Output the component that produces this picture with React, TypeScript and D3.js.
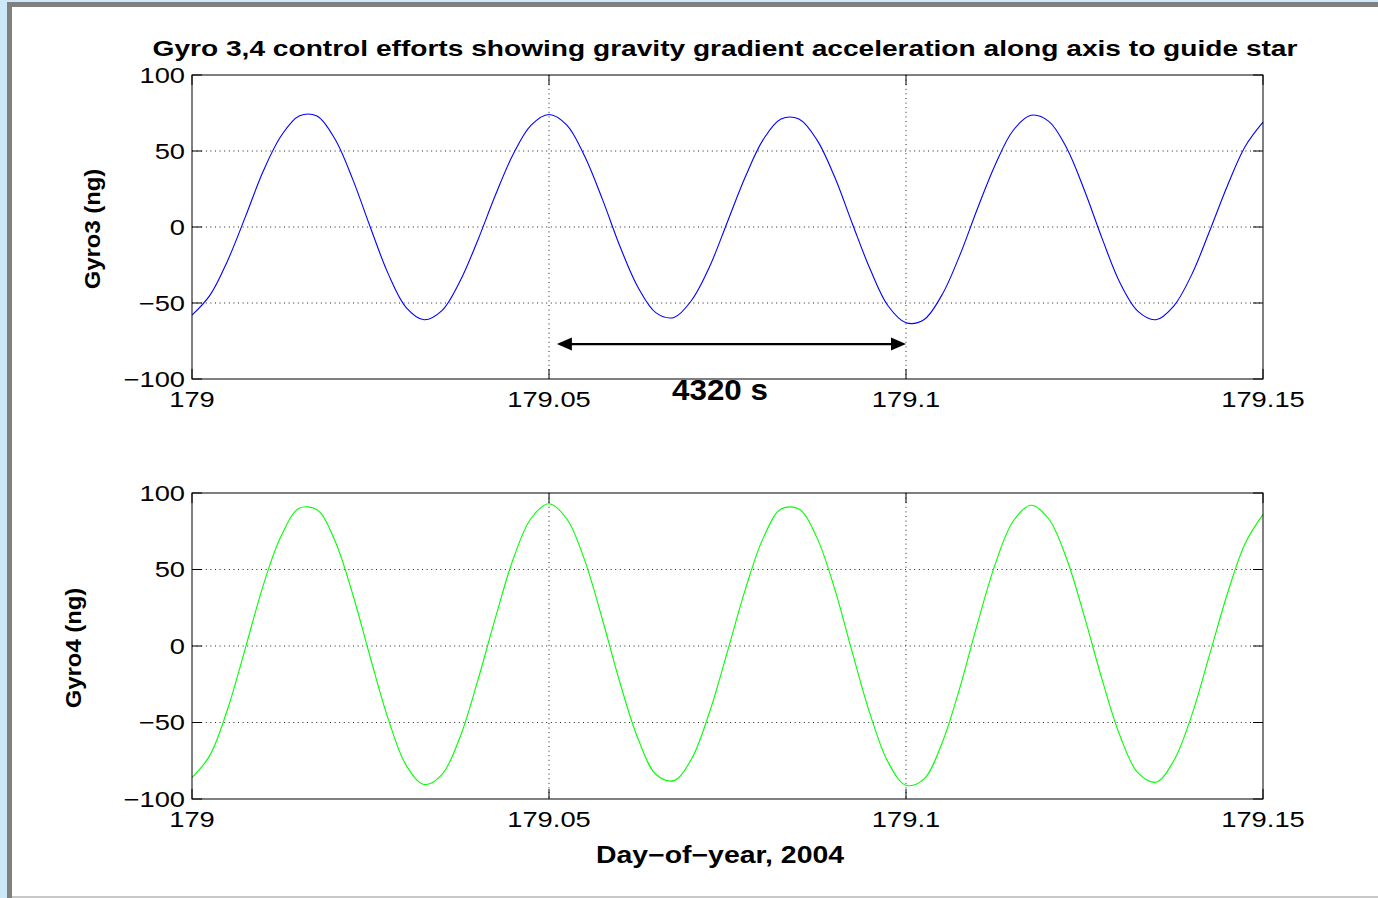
import React from "react";
import * as d3 from "d3";

// ---- data ----
const DAYS = [
  179.0, 179.0025, 179.005, 179.0075, 179.01, 179.0125, 179.015, 179.0175, 179.02, 179.0225,
  179.025, 179.0275, 179.03, 179.0325, 179.035, 179.0375, 179.04, 179.0425, 179.045, 179.0475,
  179.05, 179.0525, 179.055, 179.0575, 179.06, 179.0625, 179.065, 179.0675, 179.07, 179.0725,
  179.075, 179.0775, 179.08, 179.0825, 179.085, 179.0875, 179.09, 179.0925, 179.095, 179.0975,
  179.1, 179.1025, 179.105, 179.1075, 179.11, 179.1125, 179.115, 179.1175, 179.12, 179.1225,
  179.125, 179.1275, 179.13, 179.1325, 179.135, 179.1375, 179.14, 179.1425, 179.145, 179.1475,
  179.15,
];

const GYRO3 = [
  -58, -45, -22, 7, 37, 60, 73, 73, 58, 31.5,
  -0.5, -31, -53, -61, -55, -36, -9, 21, 48, 67,
  74, 67, 46.5, 18, -13.5, -40, -56.5, -59.5, -48, -26,
  3.5, 33, 57.5, 71, 71, 57.5, 33, 2, -28, -52,
  -63, -61, -45, -19, 12, 41, 63.5, 73.5, 69.5, 52,
  24, -8, -37, -55.5, -61, -52, -31.5, -3, 27, 53,
  69,
];

const GYRO4 = [
  -86, -71.5, -41, -1, 40, 72, 90, 89, 69, 34,
  -8, -48, -78, -90.5, -84, -60, -23, 18.5, 57, 83.5,
  93, 83, 56, 17, -25, -61, -84, -88, -73.5, -43,
  -3.5, 37, 70.5, 89.5, 89.5, 71, 37.5, -4.5, -45, -76,
  -91, -87, -64, -28, 14.5, 53.5, 81.5, 92, 83, 57,
  19, -22.5, -59, -83, -89, -75, -45.5, -6, 34, 67,
  86,
];

const X_TICKS = [179, 179.05, 179.1, 179.15];
const X_TICK_LABELS = ["179", "179.05", "179.1", "179.15"];
const X_GRID = [179.05, 179.1];
const Y_TICKS = [-100, -50, 0, 50, 100];
const Y_TICK_LABELS = ["\u2212100", "\u221250", "0", "50", "100"];
const Y_GRID = [-50, 0, 50];

const TITLE = "Gyro 3,4 control efforts showing gravity gradient acceleration along axis to guide star";
const X_LABEL = "Day\u2212of\u2212year, 2004";
const Y_LABEL_TOP = "Gyro3 (ng)";
const Y_LABEL_BOTTOM = "Gyro4 (ng)";

const SPAN_FROM = 179.0511;
const SPAN_TO = 179.1;
const SPAN_LEVEL = -77;
const SPAN_LABEL = "4320 s";
const SPAN_LABEL_DAY = 179.07395;
const SPAN_LABEL_LEVEL = -113.8;

// ---- layout ----
const W = 1378;
const H = 898;
const FONT = "'Liberation Sans', Arial, Helvetica, sans-serif";
const PLOT_LEFT = 192;
const PLOT_RIGHT = 1263;
const TICK_LEN = 10;

type TProps = {
  x: number;
  y: number;
  sx?: number;
  rot?: number;
  anchor?: "start" | "middle" | "end";
  size: number;
  weight?: number | string;
  children: React.ReactNode;
};

function T({ x, y, sx = 1, rot = 0, anchor = "middle", size, weight = "normal", children }: TProps) {
  return (
    <g transform={`translate(${x},${y}) rotate(${rot}) scale(${sx},1)`}>
      <text textAnchor={anchor} fontSize={size} fontWeight={weight} fontFamily={FONT} fill="#000">
        {children}
      </text>
    </g>
  );
}

const xScale = d3.scaleLinear().domain([179, 179.15]).range([PLOT_LEFT, PLOT_RIGHT]);

type PanelProps = {
  top: number;
  bottom: number;
  values: number[];
  color: string;
  yLabel: string;
  yLabelX: number;
  children?: (y: d3.ScaleLinear<number, number>) => React.ReactNode;
};

function Panel({ top, bottom, values, color, yLabel, yLabelX, children }: PanelProps) {
  const y = d3.scaleLinear().domain([-100, 100]).range([bottom, top]);
  const line = d3
    .line<number>()
    .x((_, i) => xScale(DAYS[i]))
    .y((d) => y(d))
    .curve(d3.curveCatmullRom.alpha(0.5));
  const TICK_SX = 1.27;
  const TICK_SIZE = 21.5;
  return (
    <g>
      {Y_GRID.map((v) => (
        <line
          key={"gy" + v}
          x1={PLOT_LEFT}
          x2={PLOT_RIGHT}
          y1={y(v)}
          y2={y(v)}
          stroke="#222"
          strokeWidth={1}
          strokeDasharray="1 3.6"
        />
      ))}
      {X_GRID.map((v) => (
        <line
          key={"gx" + v}
          x1={xScale(v)}
          x2={xScale(v)}
          y1={top}
          y2={bottom}
          stroke="#222"
          strokeWidth={1}
          strokeDasharray="1 3.6"
        />
      ))}
      <path d={line(values) || ""} fill="none" stroke={color} strokeWidth={1.1} />
      <rect
        x={PLOT_LEFT}
        y={top}
        width={PLOT_RIGHT - PLOT_LEFT}
        height={bottom - top}
        fill="none"
        stroke="#000"
        strokeWidth={1}
      />
      {Y_TICKS.map((v) => (
        <g key={"ty" + v}>
          <line x1={PLOT_LEFT} x2={PLOT_LEFT + TICK_LEN} y1={y(v)} y2={y(v)} stroke="#000" />
          <line x1={PLOT_RIGHT} x2={PLOT_RIGHT - TICK_LEN} y1={y(v)} y2={y(v)} stroke="#000" />
        </g>
      ))}
      {X_TICKS.map((v) => (
        <g key={"tx" + v}>
          <line x1={xScale(v)} x2={xScale(v)} y1={bottom} y2={bottom - TICK_LEN} stroke="#000" />
          <line x1={xScale(v)} x2={xScale(v)} y1={top} y2={top + TICK_LEN} stroke="#000" />
        </g>
      ))}
      {Y_TICKS.map((v, i) => (
        <T key={"ly" + v} x={PLOT_LEFT - 7} y={y(v) + 7.8} sx={TICK_SX} anchor="end" size={TICK_SIZE}>
          {Y_TICK_LABELS[i]}
        </T>
      ))}
      {X_TICKS.map((v, i) => (
        <T key={"lx" + v} x={xScale(v)} y={bottom + 28} sx={TICK_SX} anchor="middle" size={TICK_SIZE}>
          {X_TICK_LABELS[i]}
        </T>
      ))}
      <T x={yLabelX} y={(top + bottom) / 2 + 2} rot={-90} sx={1.06} anchor="middle" size={22.5} weight="bold">
        {yLabel}
      </T>
      {children ? children(y) : null}
    </g>
  );
}

export default function App() {
  return (
    <div style={{ position: "absolute", left: 0, top: 0, width: W, height: H }}>
      <svg width={W} height={H} viewBox={`0 0 ${W} ${H}`} style={{ display: "block" }}>
        <rect x={0} y={0} width={W} height={H} fill="#cde8f9" />
        <rect x={7} y={2} width={W - 7} height={H - 2} fill="#808080" />
        <rect x={12} y={7} width={W - 12} height={H - 7} fill="#ffffff" />
        <rect x={12} y={896} width={W - 12} height={2} fill="#c8c8c8" />

        <T x={725} y={56} sx={1.25} anchor="middle" size={22.5} weight="bold">
          {TITLE}
        </T>

        <Panel top={75} bottom={379} values={GYRO3} color="#0000ff" yLabel={Y_LABEL_TOP} yLabelX={99.5}>
          {(y) => {
            const x1 = xScale(SPAN_FROM);
            const x2 = xScale(SPAN_TO);
            const yy = y(SPAN_LEVEL);
            const hl = 15;
            const hh = 6.5;
            return (
              <g>
                <line x1={x1 + hl - 2} x2={x2 - hl + 2} y1={yy} y2={yy} stroke="#000" strokeWidth={2.2} />
                <polygon points={`${x1},${yy} ${x1 + hl},${yy - hh} ${x1 + hl},${yy + hh}`} fill="#000" />
                <polygon points={`${x2},${yy} ${x2 - hl},${yy - hh} ${x2 - hl},${yy + hh}`} fill="#000" />
                <T x={xScale(SPAN_LABEL_DAY)} y={y(SPAN_LABEL_LEVEL)} sx={1.08} anchor="middle" size={29} weight="bold">
                  {SPAN_LABEL}
                </T>
              </g>
            );
          }}
        </Panel>

        <Panel top={493} bottom={799} values={GYRO4} color="#00ff00" yLabel={Y_LABEL_BOTTOM} yLabelX={81} />

        <T x={720} y={863} sx={1.21} anchor="middle" size={23.5} weight="bold">
          {X_LABEL}
        </T>
      </svg>
    </div>
  );
}
